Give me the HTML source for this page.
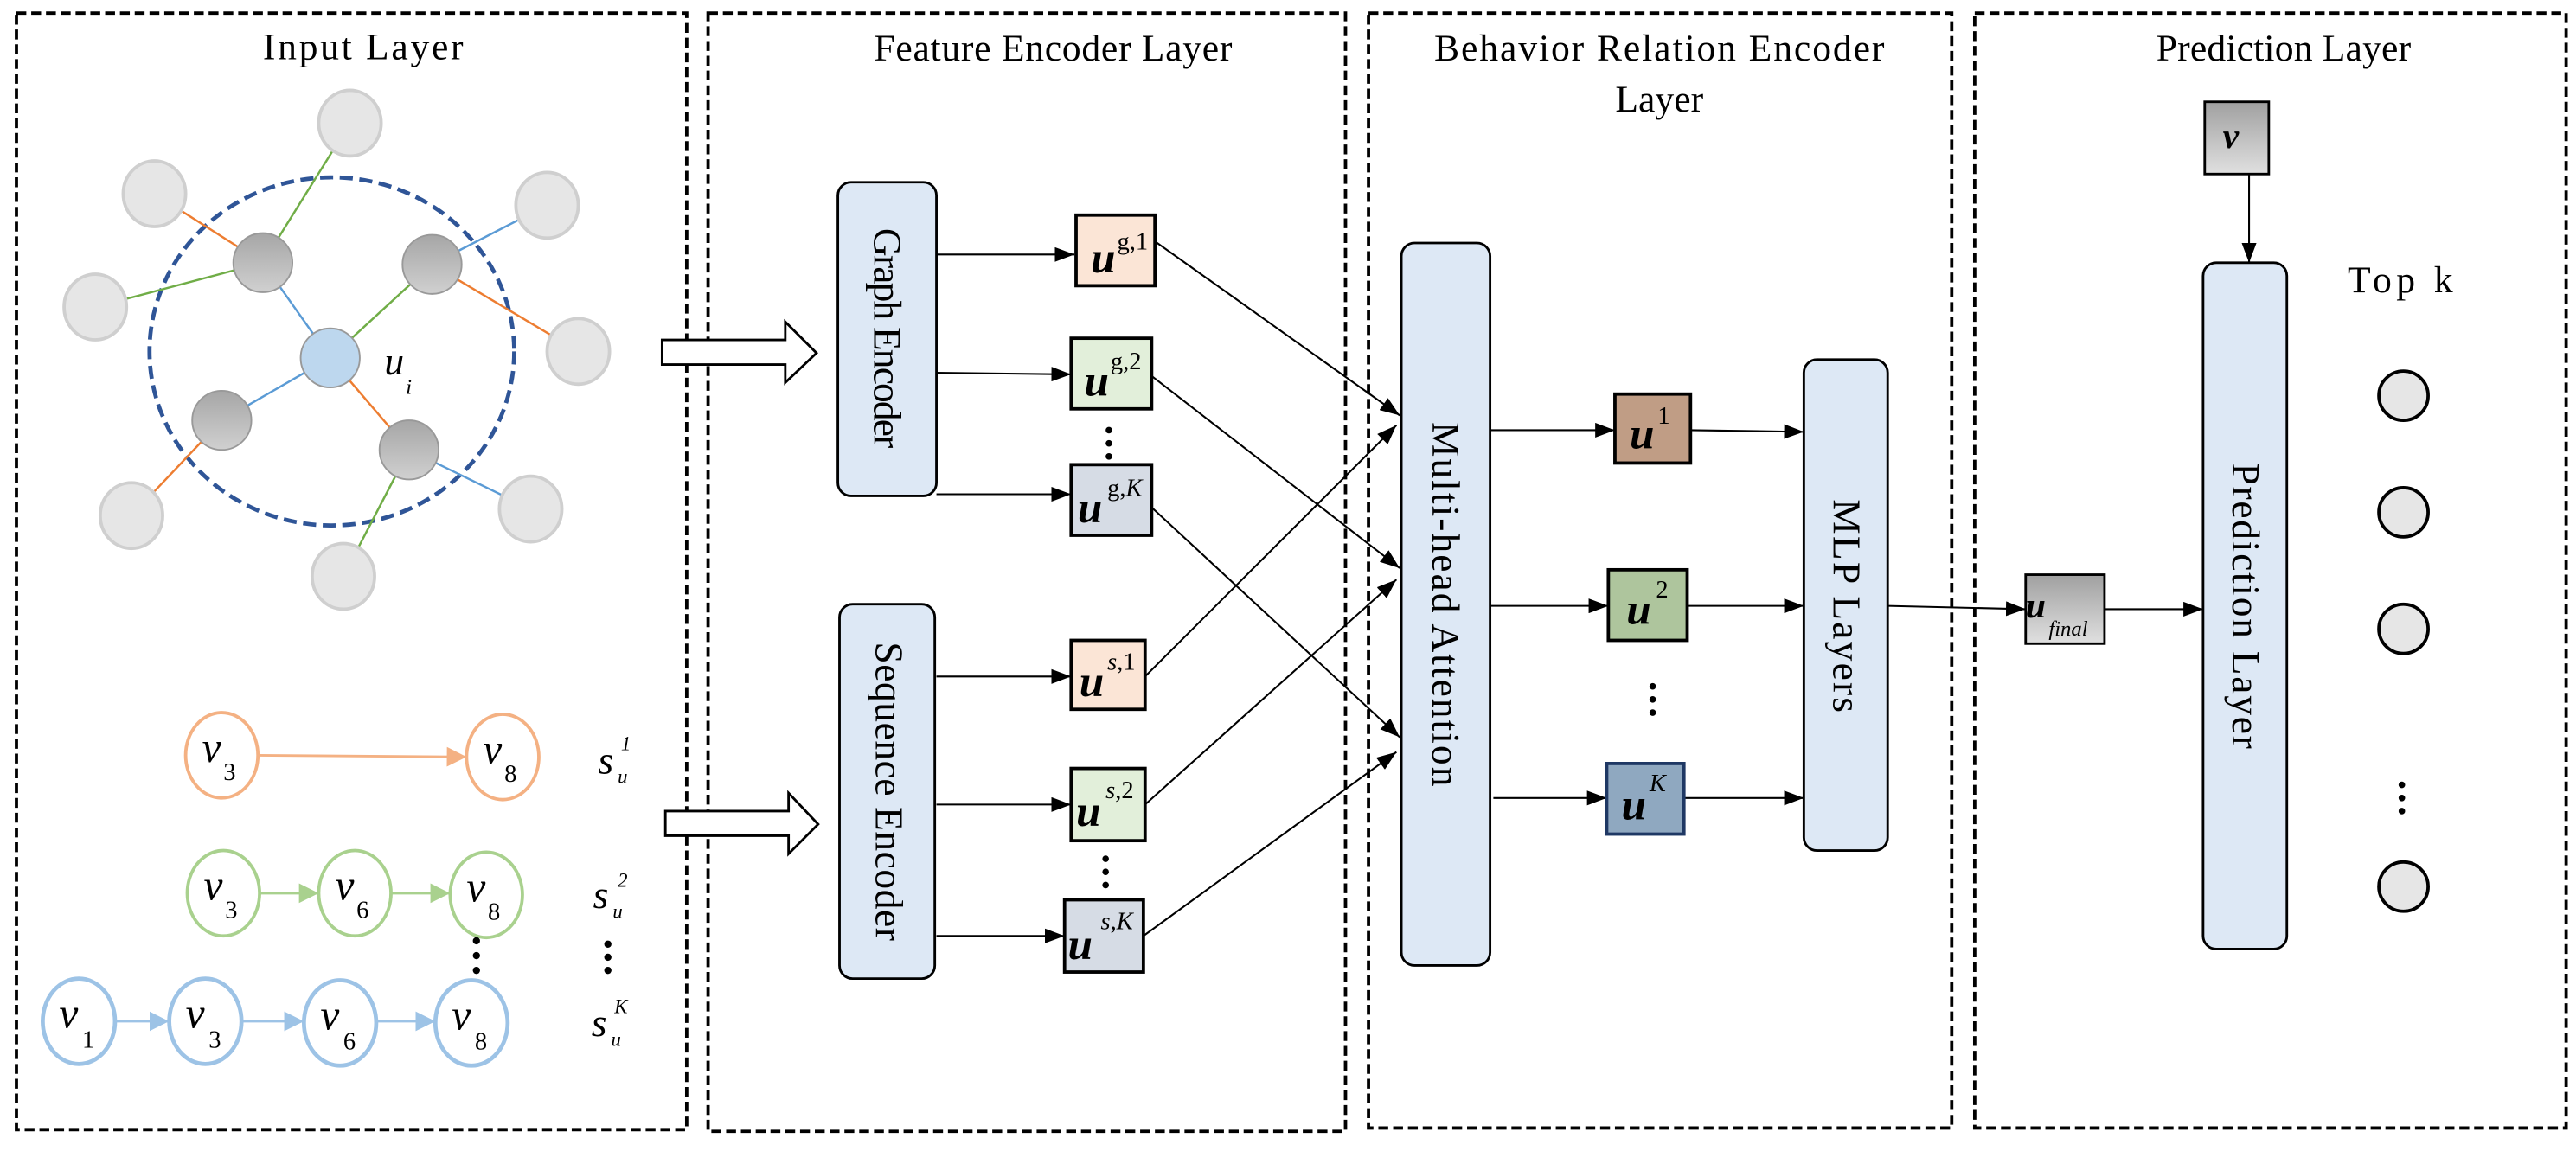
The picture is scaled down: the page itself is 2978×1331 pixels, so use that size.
<!DOCTYPE html>
<html><head><meta charset="utf-8"><style>
html,body{margin:0;padding:0;background:#fff;}
svg{display:block;}
text{font-family:"Liberation Serif",serif;fill:#000;}
</style></head><body>
<svg width="2978" height="1331" viewBox="0 0 1568 701" preserveAspectRatio="none" xmlns="http://www.w3.org/2000/svg">
<defs>
<marker id="ah" markerWidth="12" markerHeight="9" refX="12" refY="4.5" orient="auto" markerUnits="userSpaceOnUse"><path d="M0,0 L12,4.5 L0,9 Z" fill="#000"/></marker>
<marker id="ao" markerWidth="12" markerHeight="12" refX="12" refY="6" orient="auto" markerUnits="userSpaceOnUse"><path d="M0,0 L12,6 L0,12 Z" fill="#f4b183"/></marker>
<marker id="ag" markerWidth="12" markerHeight="12" refX="12" refY="6" orient="auto" markerUnits="userSpaceOnUse"><path d="M0,0 L12,6 L0,12 Z" fill="#a9d18e"/></marker>
<marker id="ab" markerWidth="12" markerHeight="12" refX="12" refY="6" orient="auto" markerUnits="userSpaceOnUse"><path d="M0,0 L12,6 L0,12 Z" fill="#9dc3e6"/></marker>
<linearGradient id="gg" x1="0" y1="0" x2="0" y2="1"><stop offset="0" stop-color="#a6a6a6"/><stop offset="1" stop-color="#d0d0d0"/></linearGradient>
<linearGradient id="gb" x1="0" y1="0" x2="0" y2="1"><stop offset="0" stop-color="#a0a0a0"/><stop offset="1" stop-color="#e0e0e0"/></linearGradient>
</defs>

<g fill="none" stroke="#000" stroke-width="2" stroke-dasharray="6,3">
<rect x="10" y="8" width="408" height="680"/>
<rect x="431" y="8" width="388" height="681"/>
<rect x="833" y="8" width="355" height="679"/>
<rect x="1202" y="8" width="360" height="679"/>
</g>
<text x="221" y="36" font-size="23" text-anchor="middle" textLength="122">Input Layer</text>
<text x="641" y="37" font-size="23" text-anchor="middle" textLength="218">Feature Encoder Layer</text>
<text x="1010" y="37" font-size="23" text-anchor="middle" textLength="274">Behavior Relation Encoder</text>
<text x="1010" y="68" font-size="23" text-anchor="middle">Layer</text>
<text x="1390" y="37" font-size="23" text-anchor="middle" textLength="155">Prediction Layer</text>

<ellipse cx="202" cy="214" rx="111" ry="106" fill="none" stroke="#2f5597" stroke-width="2.5" stroke-dasharray="8,4"/>
<g stroke-width="1.3">
<line x1="201" y1="218" x2="160" y2="160" stroke="#5b9bd5"/>
<line x1="201" y1="218" x2="263" y2="161" stroke="#70ad47"/>
<line x1="201" y1="218" x2="135" y2="256" stroke="#5b9bd5"/>
<line x1="201" y1="218" x2="249" y2="274" stroke="#ed7d31"/>
<line x1="160" y1="160" x2="94" y2="118" stroke="#ed7d31"/>
<line x1="160" y1="160" x2="213" y2="75" stroke="#70ad47"/>
<line x1="160" y1="160" x2="58" y2="187" stroke="#70ad47"/>
<line x1="263" y1="161" x2="333" y2="125" stroke="#5b9bd5"/>
<line x1="263" y1="161" x2="352" y2="214" stroke="#ed7d31"/>
<line x1="135" y1="256" x2="80" y2="314" stroke="#ed7d31"/>
<line x1="249" y1="274" x2="323" y2="310" stroke="#5b9bd5"/>
<line x1="249" y1="274" x2="209" y2="351" stroke="#70ad47"/>
</g>
<g fill="#e6e6e6" stroke="#cfcfcf" stroke-width="2">
<ellipse cx="213" cy="75" rx="19" ry="20"/>
<ellipse cx="94" cy="118" rx="19" ry="20"/>
<ellipse cx="333" cy="125" rx="19" ry="20"/>
<ellipse cx="58" cy="187" rx="19" ry="20"/>
<ellipse cx="352" cy="214" rx="19" ry="20"/>
<ellipse cx="80" cy="314" rx="19" ry="20"/>
<ellipse cx="323" cy="310" rx="19" ry="20"/>
<ellipse cx="209" cy="351" rx="19" ry="20"/>
</g>
<g fill="url(#gg)" stroke="#999" stroke-width="1">
<ellipse cx="160" cy="160" rx="18" ry="18"/>
<ellipse cx="263" cy="161" rx="18" ry="18"/>
<ellipse cx="135" cy="256" rx="18" ry="18"/>
<ellipse cx="249" cy="274" rx="18" ry="18"/>
</g>
<ellipse cx="201" cy="218" rx="18" ry="18" fill="#bdd7ee" stroke="#999" stroke-width="1"/>
<text x="234" y="228" font-size="24" font-style="italic">u</text><text x="247" y="240" font-size="13" font-style="italic">i</text>

<g fill="none" stroke-width="1.5">
<line x1="157" y1="460" x2="284" y2="461" stroke="#f4b183" marker-end="url(#ao)"/>
<line x1="158" y1="544" x2="194" y2="544" stroke="#a9d18e" marker-end="url(#ag)"/>
<line x1="238" y1="544" x2="274" y2="544" stroke="#a9d18e" marker-end="url(#ag)"/>
<line x1="70" y1="622" x2="103" y2="622" stroke="#9dc3e6" marker-end="url(#ab)"/>
<line x1="147" y1="622" x2="185" y2="622" stroke="#9dc3e6" marker-end="url(#ab)"/>
<line x1="229" y1="622" x2="265" y2="622" stroke="#9dc3e6" marker-end="url(#ab)"/>
</g>
<g fill="#fff" stroke-width="2">
<ellipse cx="135" cy="460" rx="22" ry="26" stroke="#f4b183"/>
<ellipse cx="306" cy="461" rx="22" ry="26" stroke="#f4b183"/>
<ellipse cx="136" cy="544" rx="22" ry="26" stroke="#a9d18e"/>
<ellipse cx="216" cy="544" rx="22" ry="26" stroke="#a9d18e"/>
<ellipse cx="296" cy="545" rx="22" ry="26" stroke="#a9d18e"/>
<ellipse cx="48" cy="622" rx="22" ry="26" stroke="#9dc3e6" stroke-width="2.5"/>
<ellipse cx="125" cy="622" rx="22" ry="26" stroke="#9dc3e6" stroke-width="2.5"/>
<ellipse cx="207" cy="623" rx="22" ry="26" stroke="#9dc3e6" stroke-width="2.5"/>
<ellipse cx="287" cy="623" rx="22" ry="26" stroke="#9dc3e6" stroke-width="2.5"/>
</g>
<g font-size="26" font-style="italic">
<text x="123" y="464">v</text><text x="294" y="465">v</text>
<text x="124" y="548">v</text><text x="204" y="548">v</text><text x="284" y="549">v</text>
<text x="36" y="626">v</text><text x="113" y="626">v</text><text x="195" y="627">v</text><text x="275" y="627">v</text>
</g>
<g font-size="15">
<text x="136" y="475">3</text><text x="307" y="476">8</text>
<text x="137" y="559">3</text><text x="217" y="559">6</text><text x="297" y="560">8</text>
<text x="50" y="638">1</text><text x="127" y="638">3</text><text x="209" y="639">6</text><text x="289" y="639">8</text>
</g>
<g font-style="italic">
<text x="364" y="471" font-size="24">s</text><text x="378" y="457" font-size="12">1</text><text x="376" y="477" font-size="12">u</text>
<text x="361" y="553" font-size="24">s</text><text x="376" y="540" font-size="12">2</text><text x="373" y="559" font-size="12">u</text>
<text x="360" y="631" font-size="24">s</text><text x="374" y="617" font-size="12">K</text><text x="372" y="637" font-size="12">u</text>
</g>
<g fill="#000">
<circle cx="370" cy="575" r="2.2"/><circle cx="370" cy="583" r="2.2"/><circle cx="370" cy="591" r="2.2"/>
<circle cx="290" cy="573" r="2.2"/><circle cx="290" cy="582" r="2.2"/><circle cx="290" cy="591" r="2.2"/>
</g>

<path d="M403,207 L478,207 L478,196 L497,215 L478,233 L478,222 L403,222 Z" fill="#fff" stroke="#000" stroke-width="1.5"/>
<path d="M405,494 L480,494 L480,483 L498,502 L480,520 L480,509 L405,509 Z" fill="#fff" stroke="#000" stroke-width="1.5"/>

<g fill="#dde8f5" stroke="#000" stroke-width="1.5">
<rect x="510" y="111" width="60" height="191" rx="8"/>
<rect x="511" y="368" width="58" height="228" rx="8"/>
<rect x="853" y="148" width="54" height="440" rx="8"/>
<rect x="1098" y="219" width="51" height="299" rx="8"/>
<rect x="1341" y="160" width="51" height="418" rx="8"/>
</g>
<g font-size="24" text-anchor="middle">
<text transform="translate(532,206) rotate(90)" textLength="134">Graph Encoder</text>
<text transform="translate(533,482) rotate(90)" textLength="182">Sequence Encoder</text>
<text transform="translate(872,368) rotate(90)" textLength="222">Multi-head Attention</text>
<text transform="translate(1116,369) rotate(90)" textLength="130">MLP Layers</text>
<text transform="translate(1359,369) rotate(90)" textLength="174">Prediction Layer</text>
</g>

<g stroke="#000" stroke-width="1.1" fill="none" marker-end="url(#ah)">
<line x1="570" y1="155" x2="654" y2="155"/>
<line x1="570" y1="227" x2="652" y2="228"/>
<line x1="570" y1="301" x2="652" y2="301"/>
<line x1="570" y1="412" x2="652" y2="412"/>
<line x1="570" y1="490" x2="652" y2="490"/>
<line x1="570" y1="570" x2="648" y2="570"/>
<line x1="703" y1="147" x2="852" y2="253"/>
<line x1="701" y1="229" x2="852" y2="346"/>
<line x1="701" y1="309" x2="852" y2="449"/>
<line x1="697" y1="412" x2="850" y2="259"/>
<line x1="697" y1="490" x2="850" y2="353"/>
<line x1="696" y1="570" x2="850" y2="458"/>
<line x1="907" y1="262" x2="983" y2="262"/>
<line x1="907" y1="369" x2="979" y2="369"/>
<line x1="909" y1="486" x2="978" y2="486"/>
<line x1="1029" y1="262" x2="1098" y2="263"/>
<line x1="1027" y1="369" x2="1098" y2="369"/>
<line x1="1025" y1="486" x2="1098" y2="486"/>
<line x1="1149" y1="369" x2="1233" y2="371"/>
<line x1="1281" y1="371" x2="1341" y2="371"/>
<line x1="1369" y1="106" x2="1369" y2="160"/>
</g>

<g stroke="#000" stroke-width="2">
<rect x="655" y="131" width="48" height="43" fill="#fbe5d6"/>
<rect x="652" y="206" width="49" height="43" fill="#e2efda"/>
<rect x="652" y="283" width="49" height="43" fill="#d6dce5"/>
<rect x="652" y="390" width="45" height="42" fill="#fbe5d6"/>
<rect x="652" y="468" width="45" height="44" fill="#e2efda"/>
<rect x="648" y="548" width="48" height="44" fill="#d6dce5"/>
<rect x="983" y="240" width="46" height="42" fill="#c09d85"/>
<rect x="979" y="347" width="48" height="43" fill="#aec59d"/>
<rect x="978" y="465" width="47" height="43" fill="#8fa8c0" stroke="#1f3864"/>
<rect x="1233" y="350" width="48" height="42" fill="url(#gb)" stroke-width="1.5"/>
<rect x="1342" y="62" width="39" height="44" fill="url(#gb)" stroke-width="1.5"/>
</g>
<g font-size="27" font-style="italic" font-weight="bold">
<text x="664" y="166">u</text><text x="660" y="241">u</text><text x="656" y="318">u</text>
<text x="657" y="424">u</text><text x="655" y="503">u</text><text x="650" y="584">u</text>
<text x="992" y="273">u</text><text x="990" y="380">u</text><text x="987" y="499">u</text>
<text x="1233" y="376" font-size="22">u</text>
<text x="1353" y="90" font-size="22">v</text>
</g>
<g font-size="15">
<text x="680" y="152">g,1</text><text x="676" y="225">g,2</text><text x="674" y="302">g,<tspan font-style="italic">K</tspan></text>
<text x="674" y="408"><tspan font-style="italic">s</tspan>,1</text><text x="673" y="486"><tspan font-style="italic">s</tspan>,2</text><text x="670" y="566"><tspan font-style="italic">s</tspan>,<tspan font-style="italic">K</tspan></text>
<text x="1009" y="258">1</text><text x="1008" y="364">2</text><text x="1004" y="482" font-style="italic">K</text>
<text x="1247" y="387" font-size="13" font-style="italic">final</text>
</g>
<g fill="#000">
<circle cx="675" cy="262" r="2"/><circle cx="675" cy="270" r="2"/><circle cx="675" cy="278" r="2"/>
<circle cx="673" cy="523" r="2"/><circle cx="673" cy="531" r="2"/><circle cx="673" cy="539" r="2"/>
<circle cx="1006" cy="418" r="2"/><circle cx="1006" cy="426" r="2"/><circle cx="1006" cy="434" r="2"/>
<circle cx="1462" cy="478" r="2"/><circle cx="1462" cy="486" r="2"/><circle cx="1462" cy="494" r="2"/>
</g>

<text x="1461" y="178" font-size="23" text-anchor="middle" textLength="64">Top k</text>
<g fill="#e6e6e6" stroke="#000" stroke-width="2">
<ellipse cx="1463" cy="241" rx="15" ry="15"/>
<ellipse cx="1463" cy="312" rx="15" ry="15"/>
<ellipse cx="1463" cy="383" rx="15" ry="15"/>
<ellipse cx="1463" cy="540" rx="15" ry="15"/>
</g>
</svg>
</body></html>
